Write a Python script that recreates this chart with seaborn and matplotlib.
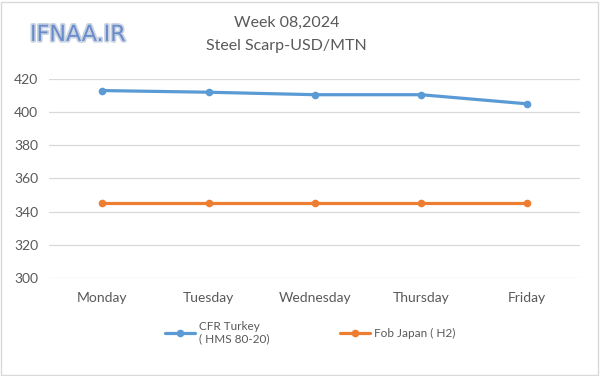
import pandas as pd
import matplotlib.pyplot as plt
import seaborn as sns
from matplotlib.patches import Rectangle
import matplotlib.patheffects as pe

days = ['Monday', 'Tuesday', 'Wednesday', 'Thursday', 'Friday']
cfr_turkey = [413, 412, 410.5, 410.5, 405]
fob_japan = [345, 345, 345, 345, 345]
series_names = ['CFR Turkey\n( HMS 80-20)', 'Fob Japan ( H2)']

df = pd.DataFrame({
    'day': days * 2,
    'price': cfr_turkey + fob_japan,
    'series': [series_names[0]] * 5 + [series_names[1]] * 5,
})

sns.set_style('white')
plt.rcParams['font.family'] = ['Lato', 'DejaVu Sans']
grey = '#595959'

fig = plt.figure(figsize=(6, 3.76), dpi=100)
ax = fig.add_axes([0.082, 0.261, 0.885, 0.529])

sns.lineplot(data=df, x='day', y='price', hue='series', sort=False,
             palette=['#5B9BD5', '#ED7D31'], linewidth=2.3, marker='o',
             markersize=5.5, markeredgewidth=0, ax=ax)

ax.set_xlim(-0.5, 4.5)
ax.set_ylim(300, 420)
ax.set_yticks(range(300, 421, 20))
ax.grid(axis='y', color='#d9d9d9', linewidth=0.9)
ax.set_axisbelow(True)
for s in ax.spines.values():
    s.set_visible(False)
ax.tick_params(axis='both', length=0, labelsize=10, colors=grey)
ax.tick_params(axis='x', pad=10)
ax.tick_params(axis='y', pad=8)
ax.set_xlabel('')
ax.set_ylabel('')

handles, labels = ax.get_legend_handles_labels()
ax.get_legend().remove()
fig.legend(handles, labels, loc='center', bbox_to_anchor=(0.517, 0.115), ncol=2,
           frameon=False, fontsize=8.5, labelcolor=grey, handlelength=2.6,
           handletextpad=0.35, columnspacing=5.9)

fig.text(0.478, 0.94, 'Week 08,2024', ha='center', va='center', fontsize=11.5, color=grey)
fig.text(0.478, 0.877, 'Steel Scarp-USD/MTN', ha='center', va='center', fontsize=11.5, color=grey)
fig.text(0.05, 0.907, 'IFNAA.IR', ha='left', va='center', fontsize=16,
         family='DejaVu Sans', color='#6a8cc8',
         path_effects=[pe.withStroke(linewidth=2.5, foreground='#c9d3e3')])

fig.patches.append(Rectangle((0.002, 0.003), 0.995, 0.993, transform=fig.transFigure,
                             fill=False, edgecolor='#d9d9d9', linewidth=1))

fig.savefig('out.png', dpi=100)
